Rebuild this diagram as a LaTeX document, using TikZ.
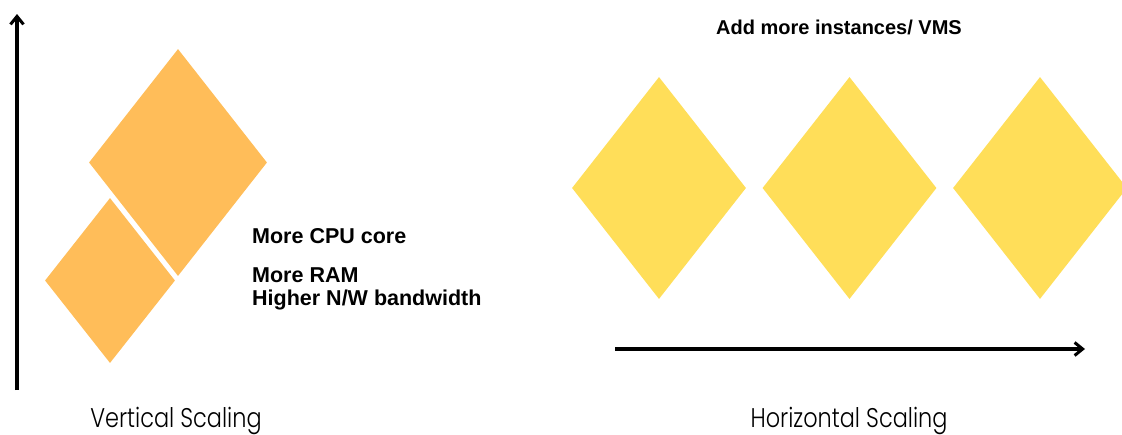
\documentclass[tikz,border=0pt]{standalone}
\usepackage{fontspec}
\setmainfont{Liberation Sans}
\newfontfamily\captionfont[FakeStretch=0.83]{Poppins Light}
\usetikzlibrary{arrows.meta,shapes.geometric}
\definecolor{vmorange}{HTML}{FFBD59}
\definecolor{vmyellow}{HTML}{FFDE59}

\begin{document}
\begin{tikzpicture}[x=1pt,y=-1pt,
    gem/.style={diamond, draw=none, inner sep=0pt, aspect=1},
    axis/.style={line width=3.4pt, -{Straight Barb[length=8pt,width=13pt,line width=3pt]}},
    spec/.style={font=\bfseries\fontsize{21.5}{24}\selectfont, anchor=base west, inner sep=0pt},
    caption/.style={font=\captionfont\fontsize{27}{30}\selectfont, anchor=base, inner sep=0pt}]
    \clip (0,0) rectangle (1122,434);
    % vertical scaling
    \coordinate (vbot) at (17,390);
    \coordinate (vtop) at (17,14);
    \draw[axis] (vbot) -- (vtop);
    \node (big) [gem, fill=vmorange, minimum width=178pt, minimum height=227pt] at (178,162.5) {};
    \node (small) [gem, fill=vmorange, minimum width=130pt, minimum height=165pt] at (110,280.5) {};
    \node (cpu) [spec] at (252,243) {More CPU core};
    \node (ram) [spec] at (252,282) {More RAM};
    \node (bw)  [spec] at (252,305) {Higher N/W bandwidth};
    \node (vcap) [caption] at (176,427) {Vertical Scaling};
    % horizontal scaling
    \node (add) [spec, anchor=base, font=\bfseries\fontsize{20}{22}\selectfont] at (839,34) {Add more instances/ VMS};
    \foreach \x [count=\i] in {659,849.5,1040}
      \node (vm\i) [gem, fill=vmyellow, minimum width=174pt, minimum height=222pt] at (\x,188) {};
    \coordinate (hleft) at (615,349);
    \coordinate (hright) at (1085,349);
    \draw[axis] (hleft) -- (hright);
    \node (hcap) [caption] at (849,427) {Horizontal Scaling};
\end{tikzpicture}
\end{document}
